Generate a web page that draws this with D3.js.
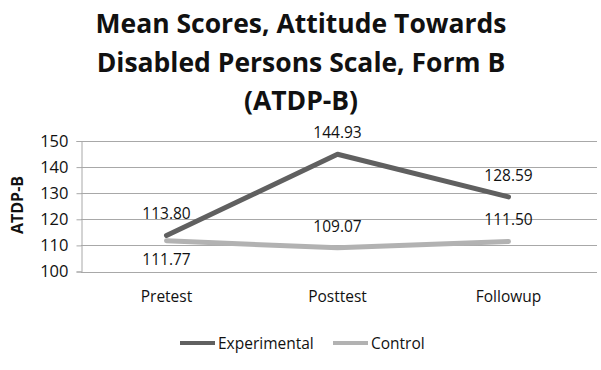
<!DOCTYPE html>
<html>
<head>
<meta charset="utf-8">
<script src="https://cdn.jsdelivr.net/npm/d3@7"></script>
<style>
  body { margin: 0; background: #fff; }
  text { font-family: "Open Sans", "Liberation Sans", sans-serif; fill: #111; }
</style>
</head>
<body>
<div id="chart"></div>
<script>
const categories = ["Pretest", "Posttest", "Followup"];
const experimental = [113.80, 144.93, 128.59];
const control = [111.77, 109.07, 111.50];
const yTicks = [100, 110, 120, 130, 140, 150];
const titleLines = ["Mean Scores, Attitude Towards", "Disabled Persons Scale, Form B", "(ATDP-B)"];

const width = 601;
const height = 370;
const marginLeft = 81;
const plotRight = 594;
const plotTop = 141;
const plotBottom = 271.5;

const series = [
  { name: "Experimental", values: experimental, color: "#606060", below: [false, false, false] },
  { name: "Control", values: control, color: "#b2b2b2", below: [true, false, false] }
];

const svg = d3.select("#chart").append("svg")
    .attr("width", width)
    .attr("height", height);

const x = d3.scaleBand()
    .domain(categories)
    .range([marginLeft, plotRight]);

const y = d3.scaleLinear()
    .domain([100, 150])
    .range([plotBottom, plotTop]);

// title
svg.append("g")
  .selectAll("text")
  .data(titleLines)
  .join("text")
    .attr("x", 301)
    .attr("y", (d, i) => 33 + i * 38.5)
    .attr("text-anchor", "middle")
    .style("font-size", "26.5px")
    .style("font-weight", "bold")
    .text(d => d);

// gridlines
svg.append("g")
  .selectAll("line")
  .data(yTicks)
  .join("line")
    .attr("x1", marginLeft)
    .attr("x2", plotRight + 3)
    .attr("y1", d => Math.round(y(d)) + 0.5)
    .attr("y2", d => Math.round(y(d)) + 0.5)
    .attr("stroke", "#a8a8a8")
    .attr("stroke-width", 1);

// y axis
svg.append("g")
    .attr("transform", `translate(${marginLeft + 0.5},0)`)
    .call(d3.axisLeft(y).tickValues(yTicks).tickSize(5).tickPadding(8))
    .call(g => g.selectAll("line").attr("stroke", "#a8a8a8"))
    .call(g => g.select(".domain").attr("stroke", "#a8a8a8"))
    .call(g => g.selectAll("text").style("font-size", "16.5px").attr("fill", "#111"));

// x axis labels
svg.append("g")
  .selectAll("text")
  .data(categories)
  .join("text")
    .attr("x", d => x(d) + x.bandwidth() / 2)
    .attr("y", 302)
    .attr("text-anchor", "middle")
    .style("font-size", "15.5px")
    .text(d => d);

// y axis title
svg.append("text")
    .attr("transform", "translate(23,205) rotate(-90)")
    .attr("text-anchor", "middle")
    .style("font-size", "16px")
    .style("font-weight", "bold")
    .text("ATDP-B");

const line = d3.line()
    .x((d, i) => x(categories[i]) + x.bandwidth() / 2)
    .y(d => y(d));

// lines, control drawn first
svg.append("g")
  .selectAll("path")
  .data(series.slice().reverse())
  .join("path")
    .attr("d", d => line(d.values))
    .attr("fill", "none")
    .attr("stroke", d => d.color)
    .attr("stroke-width", 5)
    .attr("stroke-linejoin", "round")
    .attr("stroke-linecap", "round");

// data labels
series.forEach(s => {
  svg.append("g")
    .selectAll("text")
    .data(s.values)
    .join("text")
      .attr("x", (d, i) => x(categories[i]) + x.bandwidth() / 2)
      .attr("y", (d, i) => s.below[i] ? y(d) + 24 : y(d) - 16)
      .attr("text-anchor", "middle")
      .style("font-size", "15.5px")
      .text(d => d.toFixed(2));
});

// legend
const legend = svg.append("g")
  .selectAll("g")
  .data(series)
  .join("g")
    .attr("transform", (d, i) => `translate(${[180, 333][i]},343)`);

legend.append("line")
    .attr("x1", 0).attr("x2", 35)
    .attr("y1", 0).attr("y2", 0)
    .attr("stroke", d => d.color)
    .attr("stroke-width", 4);

legend.append("text")
    .attr("x", 38)
    .attr("y", 5.5)
    .style("font-size", "15.5px")
    .text(d => d.name);
</script>
</body>
</html>
